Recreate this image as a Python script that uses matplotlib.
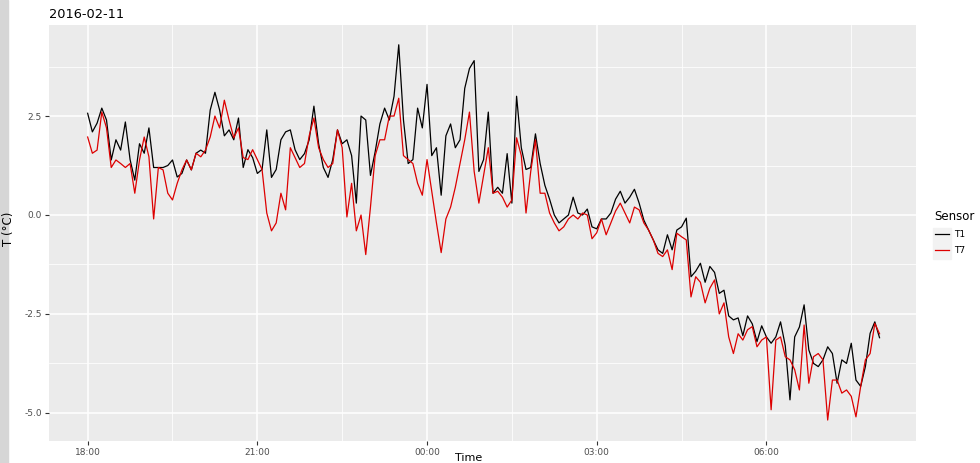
import matplotlib
matplotlib.use("Agg")
import matplotlib.pyplot as plt
import matplotlib.dates as mdates
from matplotlib.patches import Rectangle
import numpy as np
import pandas as pd

# temperature readings, 5-minute samples starting 2016-02-11 18:00
start = "2016-02-11 18:00"
step = "5min"

t1 = [
    2.57, 2.1, 2.32, 2.7, 2.4, 1.39, 1.9, 1.64, 2.35, 1.4,
    0.88, 1.8, 1.56, 2.2, 1.2, 1.2, 1.2, 1.25, 1.39, 0.96,
    1.05, 1.39, 1.14, 1.56, 1.64, 1.56, 2.65, 3.1, 2.65, 2.0,
    2.15, 1.9, 2.45, 1.2, 1.65, 1.45, 1.05, 1.15, 2.15, 0.95,
    1.15, 1.9, 2.1, 2.15, 1.65, 1.4, 1.55, 1.9, 2.75, 1.8,
    1.2, 0.95, 1.4, 2.15, 1.8, 1.9, 1.5, 0.3, 2.5, 2.4,
    1.0, 1.6, 2.3, 2.7, 2.4, 3.0, 4.3, 2.4, 1.3, 1.4,
    2.7, 2.2, 3.3, 1.5, 1.7, 0.5, 2.0, 2.3, 1.7, 1.9,
    3.2, 3.7, 3.9, 1.1, 1.4, 2.6, 0.55, 0.7, 0.55, 1.55,
    0.3, 3.0, 1.7, 1.15, 1.2, 2.05, 1.3, 0.75, 0.4, 0.0,
    -0.2, -0.1, 0.0, 0.45, 0.05, 0.0, 0.15, -0.3, -0.35, -0.1,
    -0.1, 0.05, 0.4, 0.6, 0.3, 0.45, 0.65, 0.3, -0.13, -0.38,
    -0.63, -0.88, -0.97, -0.5, -0.88, -0.38, -0.3, -0.08, -1.56, -1.42,
    -1.22, -1.7, -1.3, -1.45, -1.98, -1.9, -2.55, -2.65, -2.6, -3.05,
    -2.55, -2.75, -3.2, -2.8, -3.08, -3.24, -3.08, -2.7, -3.3, -4.67,
    -3.08, -2.83, -2.27, -3.41, -3.75, -3.83, -3.66, -3.33, -3.5, -4.25,
    -3.66, -3.75, -3.24, -4.17, -4.33, -3.83, -2.99, -2.7, -3.1,
]

t7 = [
    1.97, 1.56, 1.64, 2.6, 2.2, 1.2, 1.39, 1.3, 1.2, 1.3,
    0.55, 1.39, 1.97, 1.47, -0.1, 1.2, 1.14, 0.55, 0.38, 0.8,
    1.14, 1.39, 1.14, 1.56, 1.47, 1.64, 1.97, 2.5, 2.2, 2.9,
    2.4, 1.95, 2.2, 1.45, 1.4, 1.65, 1.4, 1.15, 0.05, -0.4,
    -0.2, 0.55, 0.13, 1.7, 1.45, 1.2, 1.3, 2.0, 2.45, 1.7,
    1.4, 1.2, 1.3, 2.15, 1.7, -0.05, 0.8, -0.4, 0.0, -1.0,
    0.2, 1.5, 1.9, 1.9, 2.5, 2.5, 2.95, 1.5, 1.4, 1.3,
    0.8, 0.5, 1.4, 0.6, -0.2, -0.95, -0.1, 0.2, 0.7, 1.3,
    1.9, 2.6, 1.1, 0.3, 1.0, 1.7, 0.55, 0.6, 0.45, 0.2,
    0.38, 1.95, 1.5, 0.05, 1.1, 1.9, 0.55, 0.55, 0.05, -0.2,
    -0.4, -0.3, -0.1, 0.0, -0.1, 0.05, 0.0, -0.6, -0.45, -0.1,
    -0.5, -0.2, 0.1, 0.3, 0.05, -0.2, 0.2, 0.13, -0.2, -0.38,
    -0.63, -0.97, -1.05, -0.88, -1.38, -0.46, -0.55, -0.63, -2.07, -1.56,
    -1.7, -2.22, -1.85, -1.64, -2.5, -2.22, -3.08, -3.5, -3.0, -3.16,
    -2.9, -2.82, -3.33, -3.16, -3.08, -4.92, -3.16, -3.08, -3.58, -3.66,
    -3.91, -4.42, -2.78, -4.25, -3.58, -3.5, -3.66, -5.18, -4.17, -4.17,
    -4.5, -4.42, -4.58, -5.1, -4.33, -3.66, -3.5, -2.74, -3.0,
]

sensors = ["T1", "T7"]
colors = ["#000000", "#DD0000"]

times = pd.date_range(start, periods=len(t1), freq=step)
t0 = pd.Timestamp(start)

fig = plt.figure(figsize=(9.8, 4.63), dpi=100)
# light grey strip along the left border
fig.patches.append(Rectangle((0, 0), 0.008, 1, transform=fig.transFigure,
                             color="#D6D6D6", zorder=-1))

ax = fig.add_axes([0.05, 0.0475, 0.885, 0.8985])
ax.set_facecolor("#EBEBEB")

for name, vals, c in zip(sensors, [t1, t7], colors):
    ax.plot(times, vals, color=c, lw=0.9, label=name)

# ggplot-style grey panel with white grid
ax.set_xlim(t0 - pd.Timedelta(minutes=41), t0 + pd.Timedelta(minutes=879))
ax.set_ylim(-5.71, 4.8)
ax.xaxis.set_major_locator(mdates.HourLocator(byhour=[0, 3, 6, 18, 21]))
ax.xaxis.set_major_formatter(mdates.DateFormatter("%H:%M"))
minor_x = [t0 + pd.Timedelta(hours=h) for h in [1.5, 4.5, 7.5, 10.5, 13.5]]
ax.set_xticks(minor_x, minor=True)
ax.set_yticks([-5, -2.5, 0, 2.5])
ax.set_yticklabels(["-5.0", "-2.5", "0.0", "2.5"])
ax.set_yticks([-3.75, -1.25, 1.25, 3.75], minor=True)

ax.grid(which="major", color="white", lw=1.1)
ax.grid(which="minor", color="white", lw=0.55)
ax.set_axisbelow(True)
for s in ax.spines.values():
    s.set_visible(False)
ax.tick_params(which="major", length=3, width=0.8, color="#333333",
               labelsize=6.5, labelcolor="#4D4D4D", pad=2)
ax.tick_params(which="minor", length=0)

fig.text(0.05, 0.968, "2016-02-11", fontsize=9.3, ha="left", va="center")
fig.text(0.478, 0.0, "Time", fontsize=8, ha="center", va="bottom")
fig.text(0.009, 0.505, "T (°C)", fontsize=8.5, rotation=90, ha="center", va="center")

leg = ax.legend(title="Sensor", loc="upper left", bbox_to_anchor=(0.949, 0.557),
                bbox_transform=fig.transFigure, frameon=False, fontsize=6.5,
                title_fontsize=8.5, handlelength=1.6, handletextpad=0.6,
                labelspacing=0.8, borderpad=0)
leg._legend_box.align = "left"

# grey key backgrounds behind the legend lines
for yk in (0.474, 0.441):
    fig.patches.append(Rectangle((0.952, yk), 0.018, 0.033, transform=fig.transFigure,
                                 color="#F2F2F2", zorder=-1))

fig.savefig("out.png", dpi=100)
